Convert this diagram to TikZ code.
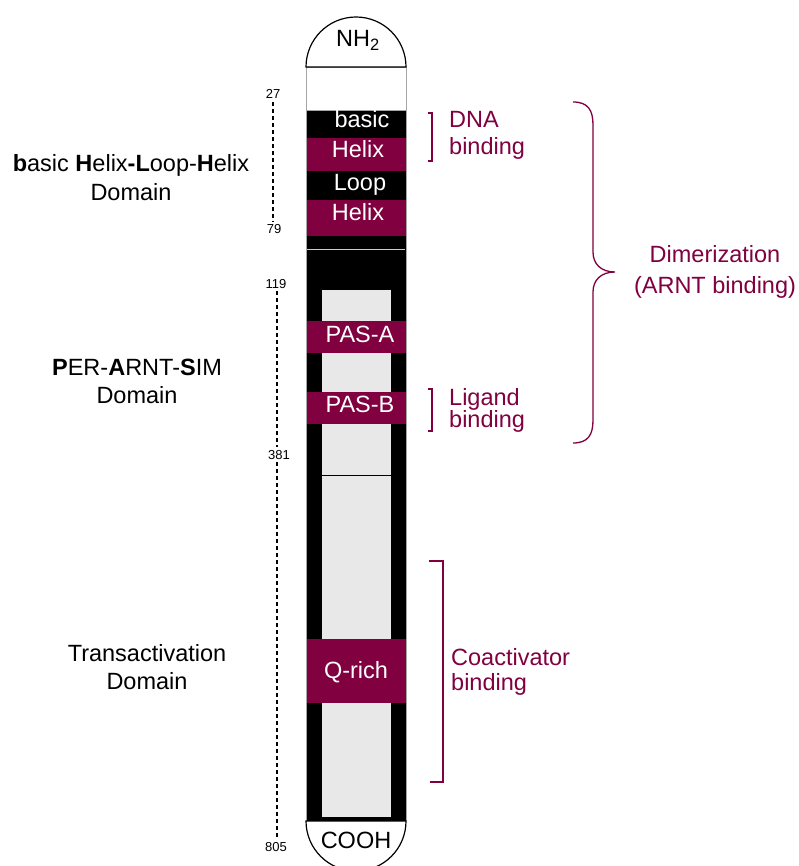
\documentclass[tikz,border=0pt]{standalone}
\usepackage{fontspec}
\setmainfont{Liberation Sans}
\usetikzlibrary{positioning}
\definecolor{maroon}{RGB}{128,0,64}
\definecolor{pasgray}{RGB}{232,232,232}
\tikzset{
  seg/.style={fill=maroon, draw=none},
  inlbl/.style={text=white, font=\fontsize{23.5}{27}\selectfont, anchor=base, inner sep=0pt},
  capend/.style={draw=black, line width=1.2pt, fill=white},
  dom/.style={font=\fontsize{23.5}{27}\selectfont, anchor=base, inner sep=0pt},
  resnum/.style={font=\fontsize{13}{15}\selectfont, anchor=base, inner sep=3pt},
  span/.style={line width=1.5pt, dash pattern=on 4pt off 3pt},
  func/.style={text=maroon, font=\fontsize{23.5}{27}\selectfont, anchor=base west, inner sep=0pt},
  brk/.style={draw=maroon, line width=1.3pt}
}

\begin{document}
\begin{tikzpicture}[x=1pt, y=-1pt]
  \useasboundingbox[fill=white] (0,0) rectangle (798,866);

  % protein column
  \fill[black] (306,110) rectangle (406,821);
  \draw[gray!70, line width=0.8pt, fill=white] (306,67) rectangle (406,110);
  \draw[gray!70, line width=0.8pt] (306,110) -- (306,821) (406,110) -- (406,821);
  \fill[pasgray] (322,290) rectangle (391,817);
  \draw[black, line width=0.8pt] (322,475) -- (391,475);
  \draw[gray!40, line width=0.8pt] (307,249) -- (405,249);

  % coloured segments
  \foreach \top/\bot in {138/171, 200/236, 321/353, 392/424, 639/703}{
    \fill[seg] (307,\top) rectangle (406,\bot);
  }

  % end caps
  \draw[capend] (306,67) arc (180:360:50) -- cycle;
  \draw[capend] (306,821) arc (180:0:50) -- cycle;
  \node[dom] (nterm) at (358,47) {NH\textsubscript{2}};
  \node[dom] (cterm) at (356,848) {COOH};

  % segment labels
  \foreach \nm/\x/\y/\txt in {lbasic/362/128/basic, lhelixA/358/158/Helix,
                              lloop/360/191/Loop, lhelixB/358/221/Helix,
                              lpasA/360/342/PAS-A, lpasB/360/412/PAS-B,
                              lqrich/356/678/Q-rich}{
    \node[inlbl] (\nm) at (\x,\y) {\txt};
  }

  % residue numbers
  \node[resnum] (p27) at (273,99) {27};
  \node[resnum] (p79) at (274,234) {79};
  \node[resnum] (p119) at (276,288) {119};
  \node[resnum] (p381) at (279,459) {381};
  \node[resnum] (p805) at (276,851) {805};
  \draw[span] (p27.south -| 273,0) -- (p79.north -| 273,0);
  \draw[span] (p119.south -| 277,0) -- (p381.north -| 277,0);
  \draw[span] (p381.south -| 277,0) -- (p805.north -| 277,0);

  % domain names
  \node[dom] (bhlh) at (131,172) {\textbf{b}asic \textbf{H}elix\textbf{-L}oop-\textbf{H}elix};
  \node[dom] (bhlhD) at (131,201) {Domain};
  \node[dom] (pas) at (137,375) {\textbf{P}ER-\textbf{A}RNT-\textbf{S}IM};
  \node[dom] (pasD) at (137,403) {Domain};
  \node[dom] (tad) at (147,661) {Transactivation};
  \node[dom] (tadD) at (147,689) {Domain};

  % functions
  \draw[brk] (428,113) -- (432,113) -- (432,161) -- (428,161);
  \node[func] (dna) at (449,128) {DNA};
  \node[func] (dnaB) at (449,155) {binding};
  \draw[brk] (428,389) -- (432,389) -- (432,431) -- (428,431);
  \node[func] (lig) at (449,405) {Ligand};
  \node[func] (ligB) at (449,427) {binding};
  \draw[brk] (429,561) -- (443,561) -- (443,782) -- (430,782);
  \node[func] (coact) at (451,665) {Coactivator};
  \node[func] (coactB) at (451,690) {binding};
  \draw[brk] (573,102) .. controls (588,102) and (593,110) .. (593,125) -- (593,252)
    .. controls (593,264) and (601,272) .. (615,272)
    .. controls (601,272) and (593,280) .. (593,292) -- (593,420)
    .. controls (593,435) and (588,443) .. (573,443);
  \node[func, anchor=base] (dim) at (715,263) {Dimerization};
  \node[func, anchor=base] (dimB) at (715,294) {(ARNT binding)};
\end{tikzpicture}
\end{document}
